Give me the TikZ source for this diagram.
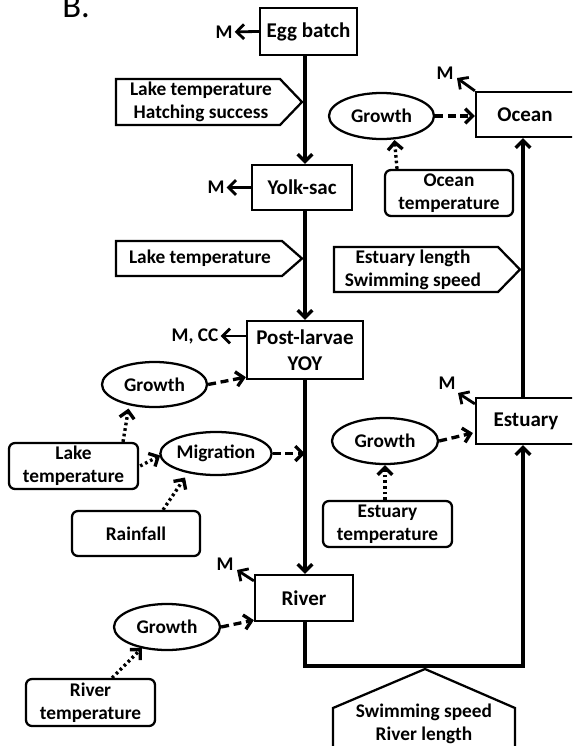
\documentclass[tikz,border=0pt]{standalone}
\usepackage{fontspec}
\setmainfont{Carlito}
\usetikzlibrary{shapes.geometric,arrows.meta,calc}
\begin{document}
\begin{tikzpicture}[x=0.75pt,y=-0.75pt,
  wh/.style 2 args={minimum width=#1*0.75pt,minimum height=#2*0.75pt},
  arr/.style={-{Straight Barb[length=5.5pt,width=11pt]}},
  mainline/.style={line width=2.5pt,arr},
  stage/.style={draw,line width=1.7pt,rectangle,inner sep=0pt,align=center,
    font=\fontsize{15.75}{19.5}\selectfont\bfseries},
  proc/.style={draw,line width=1.7pt,ellipse,inner sep=0pt,align=center,
    font=\fontsize{14.5}{17.25}\selectfont\bfseries},
  factor/.style={draw,line width=1.7pt,rectangle,rounded corners=4.5pt,inner sep=0pt,align=center,
    font=\fontsize{14.5}{17.25}\selectfont\bfseries},
  txt/.style={inner sep=0pt,align=center,font=\fontsize{14.5}{17.25}\selectfont\bfseries},
  lab/.style={inner sep=1.5pt,font=\fontsize{14.5}{17.25}\selectfont\bfseries},
  mort/.style={line width=2.1pt,arr},
  dasharr/.style={line width=2.5pt,dash pattern=on 6pt off 3.5pt,arr},
  dotarr/.style={line width=2.5pt,dash pattern=on 2pt off 2.2pt,arr},
  shp/.style={line width=1.7pt,line join=miter}
]
\useasboundingbox (0,0) rectangle (572,746);
\clip (0,0) rectangle (572,746);

\node[anchor=base west,inner sep=0pt,font=\fontsize{26}{26}\selectfont] (lblB) at (62,17) {B.};

% stage boxes
\node[stage,wh={97}{47}] (egg) at (308.5,31.5) {Egg batch};
\node[stage,wh={100}{45}] (yolk) at (302,187.5) {Yolk-sac};
\node[stage,wh={116}{58}] (post) at (305,350) {Post-larvae\\YOY};
\node[stage,wh={98}{46}] (river) at (304,598) {River};
\node[stage,wh={98}{45}] (ocean) at (525,114.5) {Ocean};
\node[stage,wh={100}{46}] (estuary) at (526,421) {Estuary};

% process ellipses
\node[proc,wh={105}{46}] (gocean) at (381.5,116) {Growth};
\node[proc,wh={105}{45}] (glake) at (154.5,384.5) {Growth};
\node[proc,wh={104}{43}] (migr) at (216,453.5) {Migration};
\node[proc,wh={106}{46}] (gest) at (385,441) {Growth};
\node[proc,wh={106}{46}] (griver) at (167,627) {Growth};

% factor boxes
\node[factor,wh={128}{46}] (otemp) at (449,193) {Ocean\\temperature};
\node[factor,wh={129}{46}] (ltemp) at (73.5,466) {Lake\\temperature};
\node[factor,wh={128}{45}] (rain) at (136,533.5) {Rainfall};
\node[factor,wh={129}{46}] (etemp) at (387.5,524) {Estuary\\temperature};
\node[factor,wh={129}{47}] (rtemp) at (90.5,702.5) {River\\temperature};

% pentagon labels
\draw[shp] (116,79) -- (280,79) -- (302,102) -- (280,125) -- (116,125) -- cycle;
\node[txt] (p1) at (201,102) {Lake temperature\\Hatching success};
\draw[shp] (116,241) -- (282,241) -- (302,258.5) -- (282,276) -- (116,276) -- cycle;
\node[txt] (p2) at (200,258.5) {Lake temperature};
\draw[shp] (334,247) -- (498,247) -- (520,269.5) -- (498,292) -- (334,292) -- cycle;
\node[txt] (p3) at (413,269.5) {Estuary length\\Swimming speed};
\draw[shp] (333,760) -- (333,708) -- (425,669) -- (515,708) -- (515,760);
\node[txt] (p4) at (424,724) {Swimming speed\\River length};

% main flow
\coordinate (L) at (305,0);
\coordinate (R) at (523,0);
\coordinate (bend) at (523,666);
\draw[mainline] (egg.south -| L) -- (yolk.north -| L);
\draw[mainline] (yolk.south -| L) -- (post.north -| L);
\draw[mainline] (post.south -| L) -- (river.north -| L);
\draw[mainline] (river.south -| L) |- (bend) -- (estuary.south -| R);
\draw[mainline] (estuary.north -| R) -- (ocean.south -| R);

% mortality labels
\node[lab] (m1) at (224,32) {M};
\node[lab] (m2) at (216,187.5) {M};
\node[lab] (mcc) at (195,336) {M, CC};
\node[lab] (mo) at (445,73) {M};
\node[lab] (me) at (447,383) {M};
\node[lab] (mr) at (225,564) {M};
\draw[mort] (egg.west) -- (m1);
\draw[mort] (yolk.west) -- (m2);
\draw[mort] ($(post.west)+(0,-14)$) -- (mcc);
\draw[mort] (ocean.north west) -- ($(mo)+(12,5)$);
\draw[mort] ($(estuary.north west)+(0,7)$) -- ($(me)+(11,10)$);
\draw[mort] ($(river.north west)+(0,7)$) -- ($(mr)+(12,6)$);

% growth / migration effects
\draw[dasharr] (gocean.east) -- (ocean.west |- gocean.east);
\draw[dasharr] (glake.east) -- ($(post.south west)+(0,-3)$);
\draw[dasharr] (migr.east) -- (migr.east -| L);
\draw[dasharr] (gest.east) -- ($(estuary.west)+(-2,12)$);
\draw[dasharr] (griver.east) -- ($(river.south west)+(0,-2)$);

% environmental drivers
\draw[dotarr] ($(otemp.north)+(-52,0)$) -- ($(gocean)+(13,24)$);
\draw[dotarr] ($(ltemp.north)+(49.5,0)$) -- ($(glake)+(-26,24)$);
\draw[dotarr] ($(ltemp.east)+(1,0)$) -- ($(migr.west)+(1,2)$);
\draw[dotarr] ($(rain.north)+(27,0)$) -- ($(migr)+(-31,24)$);
\draw[dotarr] ($(etemp.north)+(-2.5,0)$) -- (gest.south);
\draw[dotarr] ($(rtemp.north)+(21.5,0)$) -- ($(griver)+(-25,21)$);
\end{tikzpicture}
\end{document}
